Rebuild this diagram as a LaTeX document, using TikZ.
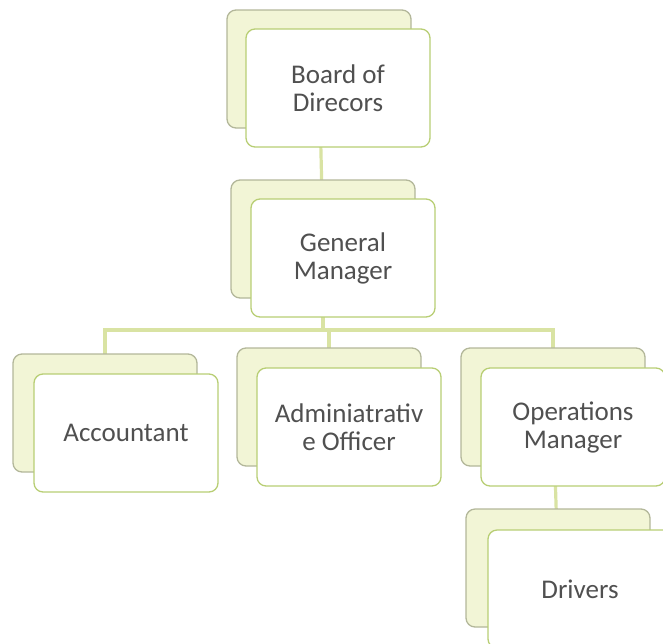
\documentclass[tikz,border=0pt]{standalone}
\usepackage{fontspec}
\setmainfont{Carlito}
\usetikzlibrary{backgrounds}

\definecolor{cardline}{HTML}{B8CE74}
\definecolor{backline}{HTML}{B3B79A}
\definecolor{cardback}{HTML}{F2F5D6}
\definecolor{linkcol}{HTML}{D9E3A3}
\definecolor{cardtext}{HTML}{505050}

\tikzset{
	card/.style={draw=cardline, line width=1.3pt, rounded corners=9pt,
		minimum width=184pt, minimum height=118pt, inner sep=0pt,
		align=center, text=cardtext, font=\fontsize{27}{28}\selectfont},
	backcard/.style={card, draw=backline, fill=cardback},
	frontcard/.style={card, fill=white},
	link/.style={draw=linkcol, line width=3.2pt}
}

\begin{document}
\begin{tikzpicture}[x=1pt, y=-1pt]
		%%%%% START %%%%%
		\useasboundingbox (0, 0) rectangle (663, 643);
		\clip (0, 0) rectangle (663, 643);
		
		% back cards
		\node[backcard] (bodB) at (319, 69) {};
		\node[frontcard] (bod) at ([shift={(19, 19)}]bodB.center) {Board of\\Direcors};
		
		\node[backcard] (gmB) at (323, 239) {};
		\node[frontcard] (gm) at ([shift={(20, 19)}]gmB.center) {General\\Manager};
		
		\node[backcard] (accB) at (105, 413) {};
		\node[frontcard] (acc) at ([shift={(21, 20)}]accB.center) {Accountant};
		
		\node[backcard] (admB) at (329, 407) {};
		\node[frontcard] (adm) at ([shift={(20, 20)}]admB.center) {Adminiatrativ\\e Officer};
		
		\node[backcard] (opsB) at (553, 407) {};
		\node[frontcard] (ops) at ([shift={(20, 20)}]opsB.center) {Operations\\Manager};
		
		\node[backcard] (drvB) at (558, 568) {};
		\node[frontcard] (drv) at ([shift={(22, 21)}]drvB.center) {Drivers};
		
		% connectors
		\coordinate (bar) at (323, 330);
		\begin{scope}[on background layer]
			\draw[link] (bodB.center) -- (gmB.center);
			\draw[link] (gmB.center) -- (bar);
			\draw[link] (accB.center) |- (bar) -| (opsB.center);
			\draw[link] (admB.center) -- (admB.center |- bar);
			\draw[link] (opsB.center) -- (drvB.center);
		\end{scope}
		
		%%%%% END %%%%%
	\end{tikzpicture}
\end{document}
